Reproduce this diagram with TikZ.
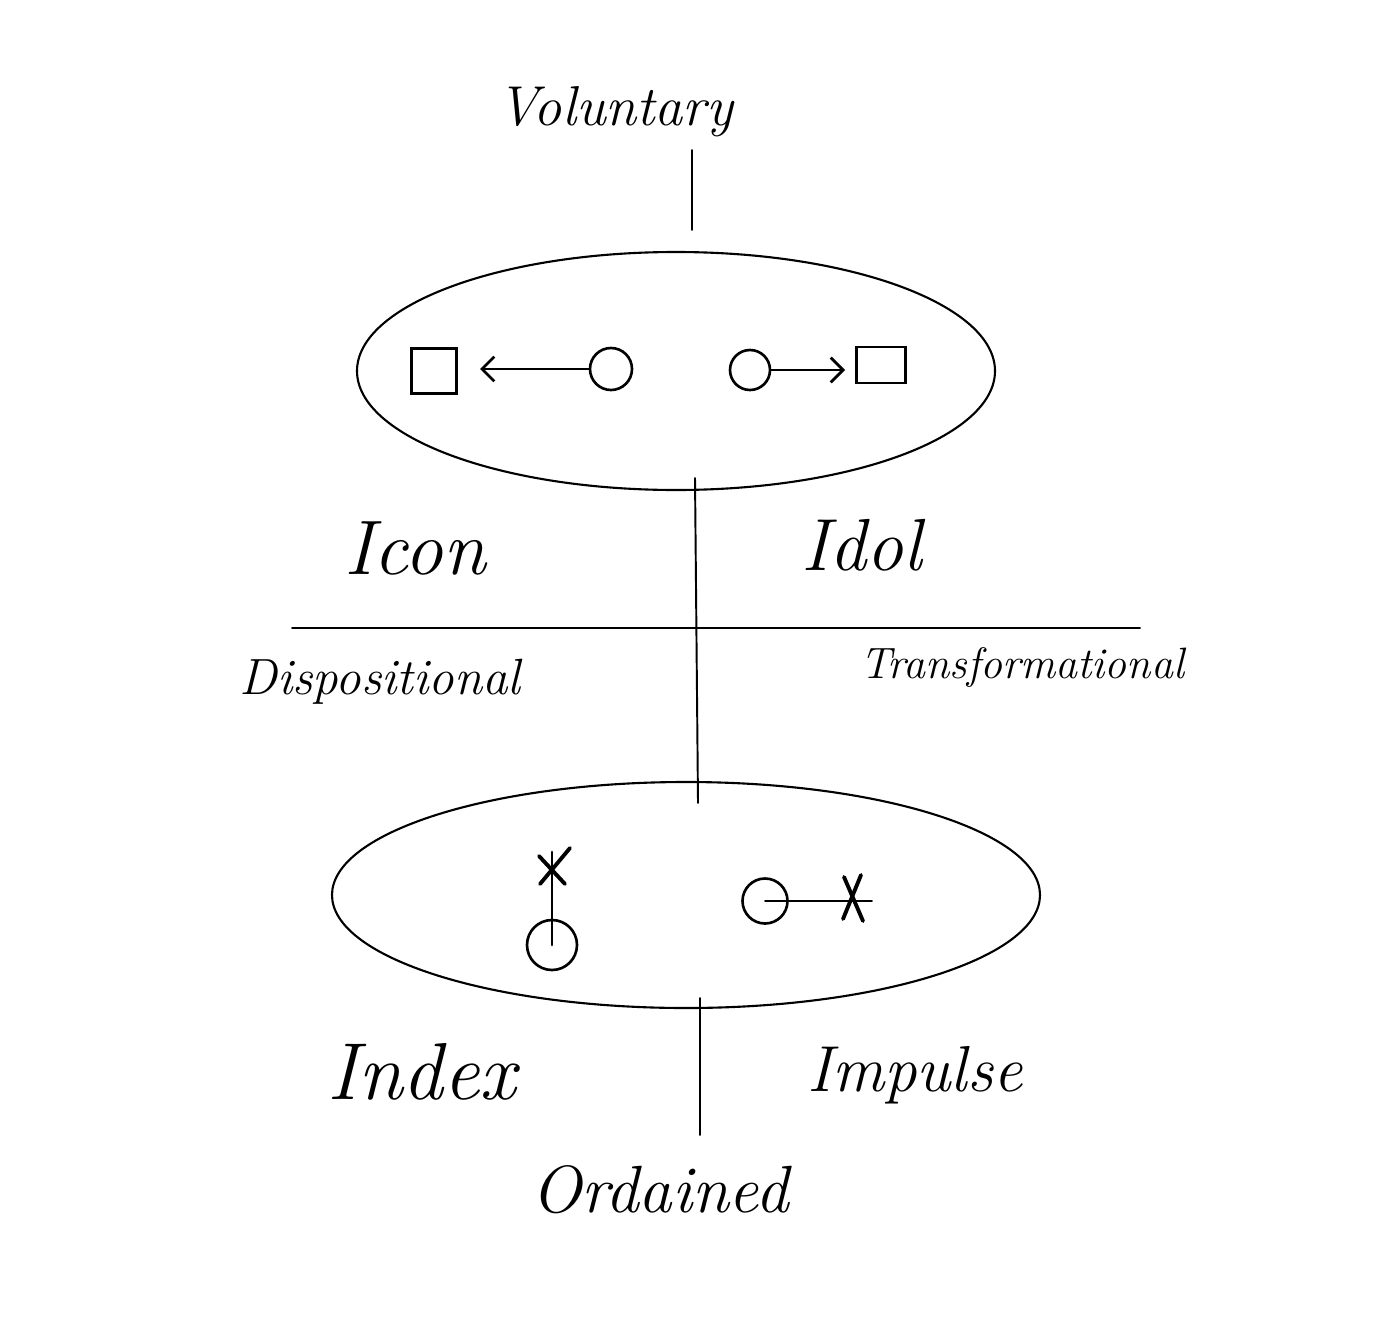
\documentclass[tikz,border=0pt]{standalone}
\usetikzlibrary{arrows.meta,shapes.geometric,calc}
\begin{document}
\begin{tikzpicture}[x=0.02cm,y=-0.02cm,
  hand/.style={font=\itshape, inner sep=0pt},
  ln/.style={line width=1.1pt, line cap=round},
  ell/.style={draw, ellipse, line width=1.2pt, inner sep=0pt},
  sq/.style={draw, line width=1.5pt, minimum width=0.9cm, minimum height=0.9cm, inner sep=0pt},
  circ/.style={draw, circle, line width=1.5pt, inner sep=0pt},
  xm/.style={line width=2.2pt, line cap=round},
  barb/.style={-{Straight Barb[length=7pt,width=14pt,line width=1.6pt]}}
]
\useasboundingbox (0,0) rectangle (1392,1318);
% top label
\node[hand, font=\itshape\fontsize{32}{38}\selectfont] (vol) at (615,112) {Voluntary};
\coordinate (volA) at (692,150);
\coordinate (volB) at (692,230);
\draw[ln] (volA) -- (volB);
% top ellipse
\node[ell, minimum width=638*0.02cm, minimum height=238*0.02cm] (top) at (676,371) {};
\node[sq] (sqL) at (434,371) {};
\node[circ, minimum size=42*0.02cm] (cL) at (611,369) {};
\coordinate (aL) at (480,369);
\draw[ln, barb] (cL.west) -- (aL);
\node[circ, minimum size=40*0.02cm] (cR) at (750,370) {};
\node[sq, minimum width=49*0.02cm, minimum height=36*0.02cm] (sqR) at (881,365) {};
\coordinate (aR) at (845,370);
\draw[ln, barb] (cR.east) -- (aR);
% central vertical
\coordinate (vA) at (695,478);
\coordinate (vB) at (698,803);
\draw[ln] (vA) -- (vB);
\node[hand, font=\itshape\fontsize{44}{50}\selectfont] (icon) at (415,548) {Icon};
\node[hand, font=\itshape\fontsize{42}{48}\selectfont] (idol) at (862,545) {Idol};
% horizontal
\coordinate (hA) at (292,628);
\coordinate (hB) at (1140,628);
\draw[ln] (hA) -- (hB);
\node[hand, font=\itshape\fontsize{29}{34}\selectfont] (disp) at (380,682) {Dispositional};
\node[hand, font=\itshape\fontsize{25}{30}\selectfont] (trans) at (1022,668) {Transformational};
% bottom ellipse
\node[ell, minimum width=708*0.02cm, minimum height=226*0.02cm] (bot) at (686,895) {};
\node[circ, minimum size=50*0.02cm] (c1) at (552,945) {};
\coordinate (x1) at (552,868);
\coordinate (t1) at (552,852);
\draw[ln, line width=1.6pt] (c1.center) -- (t1);
\draw[xm] ($(x1)+(-13,-12)$) -- ($(x1)+(13,16)$);
\draw[xm] ($(x1)+(-12,16)$) -- ($(x1)+(18,-20)$);
\node[circ, minimum size=45*0.02cm] (c2) at (765,901) {};
\coordinate (x2) at (853,899);
\coordinate (t2) at (872,901);
\draw[ln] (c2.center) -- (t2);
\draw[xm] ($(x2)+(-9,-22)$) -- ($(x2)+(10,22)$);
\draw[xm] ($(x2)+(-10,20)$) -- ($(x2)+(8,-24)$);
% bottom vertical
\coordinate (bA) at (700,998);
\coordinate (bB) at (700,1135);
\draw[ln] (bA) -- (bB);
\node[hand, font=\itshape\fontsize{46}{52}\selectfont] (index) at (422,1072) {Index};
\node[hand, font=\itshape\fontsize{37}{42}\selectfont] (imp) at (915,1075) {Impulse};
\node[hand, font=\itshape\fontsize{38}{44}\selectfont] (ord) at (660,1190) {Ordained};
\end{tikzpicture}
\end{document}
